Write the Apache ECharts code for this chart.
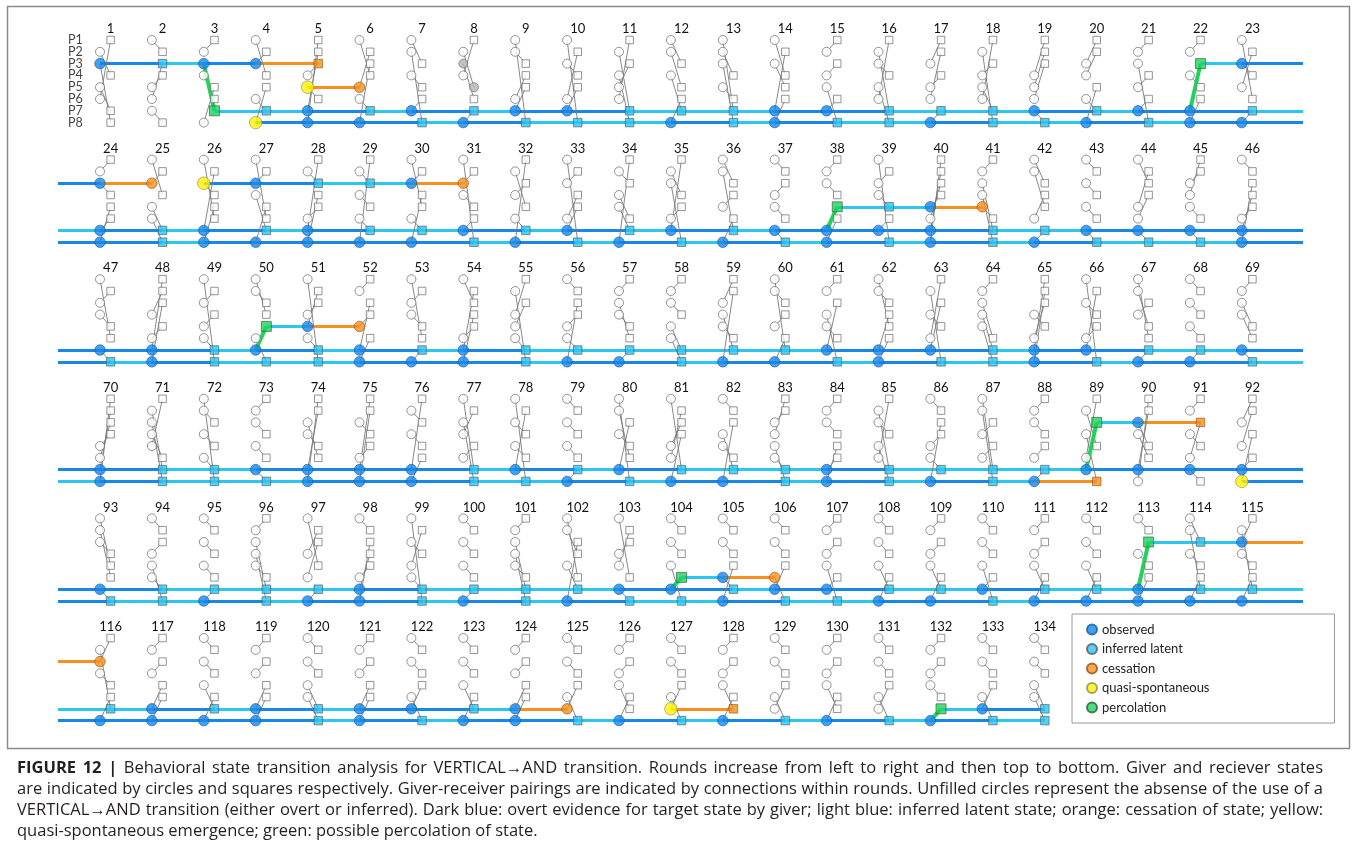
<!DOCTYPE html>
<html>
<head>
<meta charset="utf-8">
<title>VERTICAL→AND state transitions</title>
<script src="https://cdn.jsdelivr.net/npm/echarts@6.0.0/dist/echarts.min.js"></script>
<style>
  html, body { margin: 0; padding: 0; background: #fff; }
  #chart { width: 1354px; height: 860px; }
</style>
</head>
<body>
<div id="chart"></div>
<script>
// ---------------- data ----------------
const participants = ['P1', 'P2', 'P3', 'P4', 'P5', 'P6', 'P7', 'P8'];
const roundsPerRow = 23;
const roundCount = 134;

// Giver→receiver pairings of every round: "38" means P3 gives to P8.
const pairings = [
  // rounds 1-23
  '24 38 57 61', '12 54 63 78', '21 37 46 85', '14 32 67 85', '43 56 72 81', '14 52 67 83',
  '13 28 45 76', '25 36 41 87', '18 23 64 75', '18 34 62 75', '27 48 53 61', '13 25 47 86',
  '17 24 38 56', '14 35 72 86', '21 43 58 76', '27 34 58 61', '31 54 62 87', '28 43 57 61',
  '41 52 63 78', '31 42 67 85', '21 38 54 76', '21 45 73 86', '16 34 52 87',
  // rounds 24-46
  '21 34 76 85', '14 32 57 68', '16 34 72 85', '16 32 47 85', '23 65 71 84', '23 45 67 81',
  '15 32 67 84', '18 32 45 76', '25 43 67 81', '18 32 64 75', '23 46 57 81', '24 38 65 71',
  '13 27 54 86', '12 43 56 78', '21 34 75 86', '18 32 45 76', '54 63 72 81', '21 37 48 56',
  '13 25 64 87', '12 34 56 78', '13 52 64 78', '32 41 56 78', '12 65 74 83',
  // rounds 47-69
  '16 32 45 78', '42 65 71 83', '18 32 54 67', '14 23 68 75', '18 43 52 67', '21 54 73 86',
  '16 32 45 87', '13 65 72 84', '28 41 53 67', '12 54 67 83', '21 36 45 87', '21 34 57 68',
  '31 47 56 82', '17 23 54 86', '21 48 56 73', '15 23 74 86', '28 45 61 73', '21 36 47 58',
  '45 63 71 82', '18 34 65 72', '16 25 43 87', '12 34 56 87', '21 35 46 78',
  // rounds 70-92
  '54 63 72 81', '27 38 46 51', '18 23 45 67', '21 34 56 78', '36 45 72 81', '34 65 71 82',
  '23 45 71 86', '17 38 42 65', '18 34 56 72', '12 34 56 87', '18 26 45 73', '17 53 62 84',
  '12 47 56 83', '32 41 58 67', '21 34 76 85', '27 34 58 61', '12 54 67 83', '17 28 43 65',
  '21 34 65 87', '25 48 61 73', '35 46 72 81', '21 45 63 78', '31 52 76 84',
  // rounds 93-115
  '15 26 34 78', '12 43 58 67', '12 34 56 87', '21 37 48 56', '15 42 63 87', '12 65 74 83',
  '18 34 52 67', '12 34 56 87', '21 37 48 56', '16 24 57 83', '16 43 52 78', '12 34 58 76',
  '12 34 67 85', '12 34 68 75', '21 43 58 76', '12 34 57 86', '21 43 57 86', '12 34 58 76',
  '21 43 57 86', '12 34 57 86', '12 45 73 86', '13 27 45 86', '31 27 45 86',
  // rounds 116-134
  '31 27 45 86', '21 43 75 86', '12 34 57 86', '21 43 75 86', '12 34 57 68', '21 43 75 86',
  '12 34 75 68', '12 34 57 86', '21 43 75 86', '12 34 75 68', '21 43 57 86', '12 34 75 68',
  '21 43 57 86', '12 34 75 68', '21 43 57 86', '12 34 75 68', '21 43 56 87', '12 34 75 68',
  '12 34 57 68'
];

// State of a participant in each round, one character per round (rows of 23):
// O observed, L inferred latent, C cessation, Q quasi-spontaneous,
// P percolation, G grey, . no VERTICAL→AND use
const stateP3 = [
  'OLOOC..G.............PO',
  'OCQOLLOC...............',
  '.......................',
  '...................POC.',
  '....................PLO',
  'C..................'
];
const stateP5 = [
  '....QC.G...............',
  '..............PLOC.....',
  '...POC.................',
  '.......................',
  '.......................',
  '...................'
];
const stateP6 = [
  '.......................',
  '.......................',
  '.......................',
  '.......................',
  '...........POC.........',
  '...................'
];
const stateP7 = [
  '..PLOLOLOOLLLOOLLLOLOOL',
  'OLOLOLLOLOLOLOOOOLLOOOO',
  'OOLOLOLOLLLLLLOOOLOOLLO',
  'OLLOOOOLOLOLLLOLLLLOOOO',
  'OLLLLOLLLLOOLOOLLOLLOLL',
  'LOLOLOOLOC.QC...POL'
];
const stateP8 = [
  '...QOOLOLLLOLOLLOLLOLOO',
  'OLOOOOOLOLOLOLOLOLOLLLO',
  'LOLLLOOOLOOLOOLOLLOLOOL',
  'OLLLOOOLLOLOOLOLOLOC..Q',
  'LLOLOOLOLOLLOLLOOLOOOOO',
  'OOOOLOLOOLOLOLOLOLL'
];

const legendNames = ['observed', 'inferred latent', 'cessation', 'quasi-spontaneous', 'percolation'];

const captionHead = 'FIGURE 12 |';
const captionLines = [
  'Behavioral state transition analysis for VERTICAL→AND transition. Rounds increase from left to right and then top to bottom. Giver and reciever states',
  'are indicated by circles and squares respectively. Giver-receiver pairings are indicated by connections within rounds. Unfilled circles represent the absense of the use of a',
  'VERTICAL→AND transition (either overt or inferred). Dark blue: overt evidence for target state by giver; light blue: inferred latent state; orange: cessation of state; yellow:',
  'quasi-spontaneous emergence; green: possible percolation of state.'
];

// ---------------- styling ----------------
const C_DARK = '#1787ea';
const C_LIGHT = '#2cc6f2';
const C_ORANGE = '#f7901e';
const C_YELLOW = '#fff200';
const C_GREEN = '#21d35c';
const FONT = 'Lato, "Open Sans", sans-serif';
const CAPTION_FONT = '"Open Sans", "Liberation Sans", sans-serif';
const CAPTION_SIZE = 16.5;
const CAPTION_LEFT = 17, CAPTION_RIGHT = 1323, CAPTION_TOP = 768, CAPTION_LEADING = 21;

const RX = 0.205;          // receiver column sits this far right of the giver column
const LEFT_END = -0.81;    // where a carried-over state line enters a row
const RIGHT_END = 23.18;   // where a continuing state line leaves a row
const NAME_X = -0.33;      // right edge of the participant names in the first row
const ROWS = Math.ceil(roundCount / roundsPerRow);

const states = {
  3: stateP3.join(''), 5: stateP5.join(''), 6: stateP6.join(''),
  7: stateP7.join(''), 8: stateP8.join('')
};
function st(p, r) {
  const s = states[p];
  return s ? s[r - 1] : '.';
}

const rounds = pairings.map(txt => {
  const pairs = txt.split(' ').map(t => [Number(t[0]), Number(t[1])]);
  const role = {};
  pairs.forEach(([g, rc]) => { role[g] = 'g'; role[rc] = 'r'; });
  return { pairs, role };
});

function place(r, p) {
  const k = Math.floor((r - 1) / roundsPerRow);
  const i = (r - 1) % roundsPerRow;
  return { k, x: i + (rounds[r - 1].role[p] === 'r' ? RX : 0), y: p - 1 };
}

function segColor(from, to) {
  if (to === 'C') return C_ORANGE;
  return (from === 'L' || from === 'P') ? C_LIGHT : C_DARK;
}

const grids = Array.from({ length: ROWS }, () => ({
  seg: [], pair: [], perc: [], blank: [], O: [], L: [], C: [], Q: [], P: [], G: []
}));

for (let r = 1; r <= roundCount; r++) {
  const { pairs, role } = rounds[r - 1];
  pairs.forEach(([g, rc]) => {
    const a = place(r, g), b = place(r, rc);
    const bucket = st(rc, r) === 'P' ? grids[a.k].perc : grids[a.k].pair;
    bucket.push({ coords: [[a.x, a.y], [b.x, b.y]] });
  });
  for (let p = 1; p <= 8; p++) {
    const s = st(p, r);
    const q = place(r, p);
    const shape = (role[p] === 'g' || s === 'G') ? 'circle' : 'rect';
    const item = { value: [q.x, q.y], symbol: shape };
    if (s === '.') {
      item.symbolSize = shape === 'circle' ? 9 : 7.5;
      grids[q.k].blank.push(item);
    } else {
      if (s === 'C') item.symbolSize = shape === 'circle' ? 10.5 : 8.5;
      grids[q.k][s].push(item);
    }
    if (r < roundCount) {
      const n = st(p, r + 1);
      if ('OLPQ'.includes(s) && 'OLPC'.includes(n)) {
        const q2 = place(r + 1, p);
        const lineStyle = { color: segColor(s, n) };
        if (q2.k === q.k) {
          grids[q.k].seg.push({ coords: [[q.x, q.y], [q2.x, q2.y]], lineStyle });
        } else {
          grids[q.k].seg.push({ coords: [[q.x, q.y], [RIGHT_END, q.y]], lineStyle });
          grids[q2.k].seg.push({ coords: [[LEFT_END, q2.y], [q2.x, q2.y]], lineStyle });
        }
      }
    }
  }
}

// ---------------- option ----------------
const gridOpt = [], xAxisOpt = [], yAxisOpt = [], series = [];
const GRID_LEFT = 48.1, GRID_WIDTH = 1271.55, ROW_PITCH = 119.6, GRID_TOP = 36.46, GRID_H = 89.68;

for (let k = 0; k < ROWS; k++) {
  const inRow = Math.min(roundsPerRow, roundCount - k * roundsPerRow);
  gridOpt.push({ left: GRID_LEFT, width: GRID_WIDTH, top: GRID_TOP + ROW_PITCH * k, height: GRID_H, containLabel: false });
  xAxisOpt.push({
    gridIndex: k, type: 'value', min: -1, max: 23.5, position: 'top',
    axisLine: { show: false }, axisTick: { show: false }, splitLine: { show: false },
    axisLabel: {
      customValues: Array.from({ length: inRow }, (_, i) => i + RX),
      formatter: v => String(k * roundsPerRow + Math.round(v - RX) + 1),
      showMinLabel: true, showMaxLabel: true, hideOverlap: false,
      fontSize: 13, color: '#111', margin: 1, fontFamily: FONT
    }
  });
  yAxisOpt.push({
    gridIndex: k, type: 'value', inverse: true, min: -0.3, max: 7.3, show: false
  });

  const g = grids[k];
  const ax = { xAxisIndex: k, yAxisIndex: k };
  series.push(
    { type: 'lines', coordinateSystem: 'cartesian2d', ...ax, data: g.seg, silent: true, z: 1,
      lineStyle: { width: 3, opacity: 1 } },
    { type: 'lines', coordinateSystem: 'cartesian2d', ...ax, data: g.pair, silent: true, z: 2,
      lineStyle: { width: 0.9, color: '#7a7a7a', opacity: 1 } },
    { type: 'lines', coordinateSystem: 'cartesian2d', ...ax, data: g.perc, silent: true, z: 2,
      lineStyle: { width: 4, color: C_GREEN, opacity: 1 } },
    { type: 'scatter', name: 'unused', ...ax, data: g.blank, z: 3, clip: false,
      itemStyle: { color: '#fff', borderColor: '#6a6a6a', borderWidth: 0.9 } },
    { type: 'scatter', name: 'grey', ...ax, data: g.G, z: 3, clip: false, symbolSize: 9,
      itemStyle: { color: '#b4b4b4', borderColor: '#777', borderWidth: 0.9 } },
    { type: 'scatter', name: 'observed', ...ax, data: g.O, z: 4, clip: false, symbolSize: 10.5,
      itemStyle: { color: C_DARK, borderColor: '#0e5da6', borderWidth: 0.8 } },
    { type: 'scatter', name: 'inferred latent', ...ax, data: g.L, z: 4, clip: false, symbolSize: 8.5,
      itemStyle: { color: C_LIGHT, borderColor: '#4d5a60', borderWidth: 0.8 } },
    { type: 'scatter', name: 'cessation', ...ax, data: g.C, z: 4, clip: false,
      itemStyle: { color: C_ORANGE, borderColor: '#8a5320', borderWidth: 0.8 } },
    { type: 'scatter', name: 'quasi-spontaneous', ...ax, data: g.Q, z: 4, clip: false, symbolSize: 12.5,
      itemStyle: { color: C_YELLOW, borderColor: '#8c8c5a', borderWidth: 0.8 } },
    { type: 'scatter', name: 'percolation', ...ax, data: g.P, z: 4, clip: false, symbolSize: 10,
      itemStyle: { color: C_GREEN, borderColor: '#2d5a3a', borderWidth: 0.8 } }
  );
}

// participant names beside the first row
series.push({
  type: 'scatter', name: 'participants', xAxisIndex: 0, yAxisIndex: 0, silent: true, clip: false,
  symbolSize: 0, z: 5,
  data: participants.map((name, i) => ({ value: [NAME_X, i], name })),
  label: {
    show: true, position: 'left', distance: 0, formatter: d => d.name,
    fontSize: 12.5, color: '#111', fontFamily: FONT
  }
});

// ---- caption: justified lines (last line ragged) ----
const measureCtx = document.createElement('canvas').getContext('2d');
function wordWidth(word, bold) {
  measureCtx.font = (bold ? 'bold ' : '') + CAPTION_SIZE + 'px ' + CAPTION_FONT;
  return measureCtx.measureText(word).width;
}

const graphic = [
  { type: 'rect', shape: { x: 7.5, y: 6.5, width: 1342, height: 742 },
    style: { fill: 'none', stroke: '#8a8a8a', lineWidth: 1.5 }, z: 0, silent: true }
];

captionLines.forEach((line, li) => {
  const words = [];
  if (li === 0) captionHead.split(' ').forEach(w => words.push({ w, bold: true }));
  line.split(' ').forEach(w => words.push({ w, bold: false }));
  words.forEach(o => { o.width = wordWidth(o.w, o.bold); });
  const total = words.reduce((s, o) => s + o.width, 0);
  const natural = wordWidth(' ', false);
  const justify = li < captionLines.length - 1;
  const gap = justify ? (CAPTION_RIGHT - CAPTION_LEFT - total) / (words.length - 1) : natural;
  let x = CAPTION_LEFT;
  words.forEach(o => {
    graphic.push({
      type: 'text', x, y: CAPTION_TOP + CAPTION_LEADING * li, silent: true,
      style: {
        text: o.w, fill: '#231f20', fontSize: CAPTION_SIZE, fontFamily: CAPTION_FONT,
        fontWeight: o.bold ? 'bold' : 'normal', verticalAlign: 'middle'
      }
    });
    x += o.width + gap;
  });
});

const chart = echarts.init(document.getElementById('chart'), null, { renderer: 'canvas' });
chart.setOption({
  animation: false,
  backgroundColor: '#fff',
  textStyle: { fontFamily: FONT },
  grid: gridOpt,
  xAxis: xAxisOpt,
  yAxis: yAxisOpt,
  legend: {
    data: legendNames.map(n => ({ name: n, icon: 'circle' })),
    orient: 'vertical', left: 1072, top: 614,
    itemWidth: 10, itemHeight: 10, itemGap: 6.5,
    padding: [9, 125, 9, 14],
    borderColor: '#9a9a9a', borderWidth: 1,
    textStyle: { fontSize: 13, color: '#222', fontFamily: FONT },
    selectedMode: false
  },
  graphic,
  series
});
</script>
</body>
</html>
